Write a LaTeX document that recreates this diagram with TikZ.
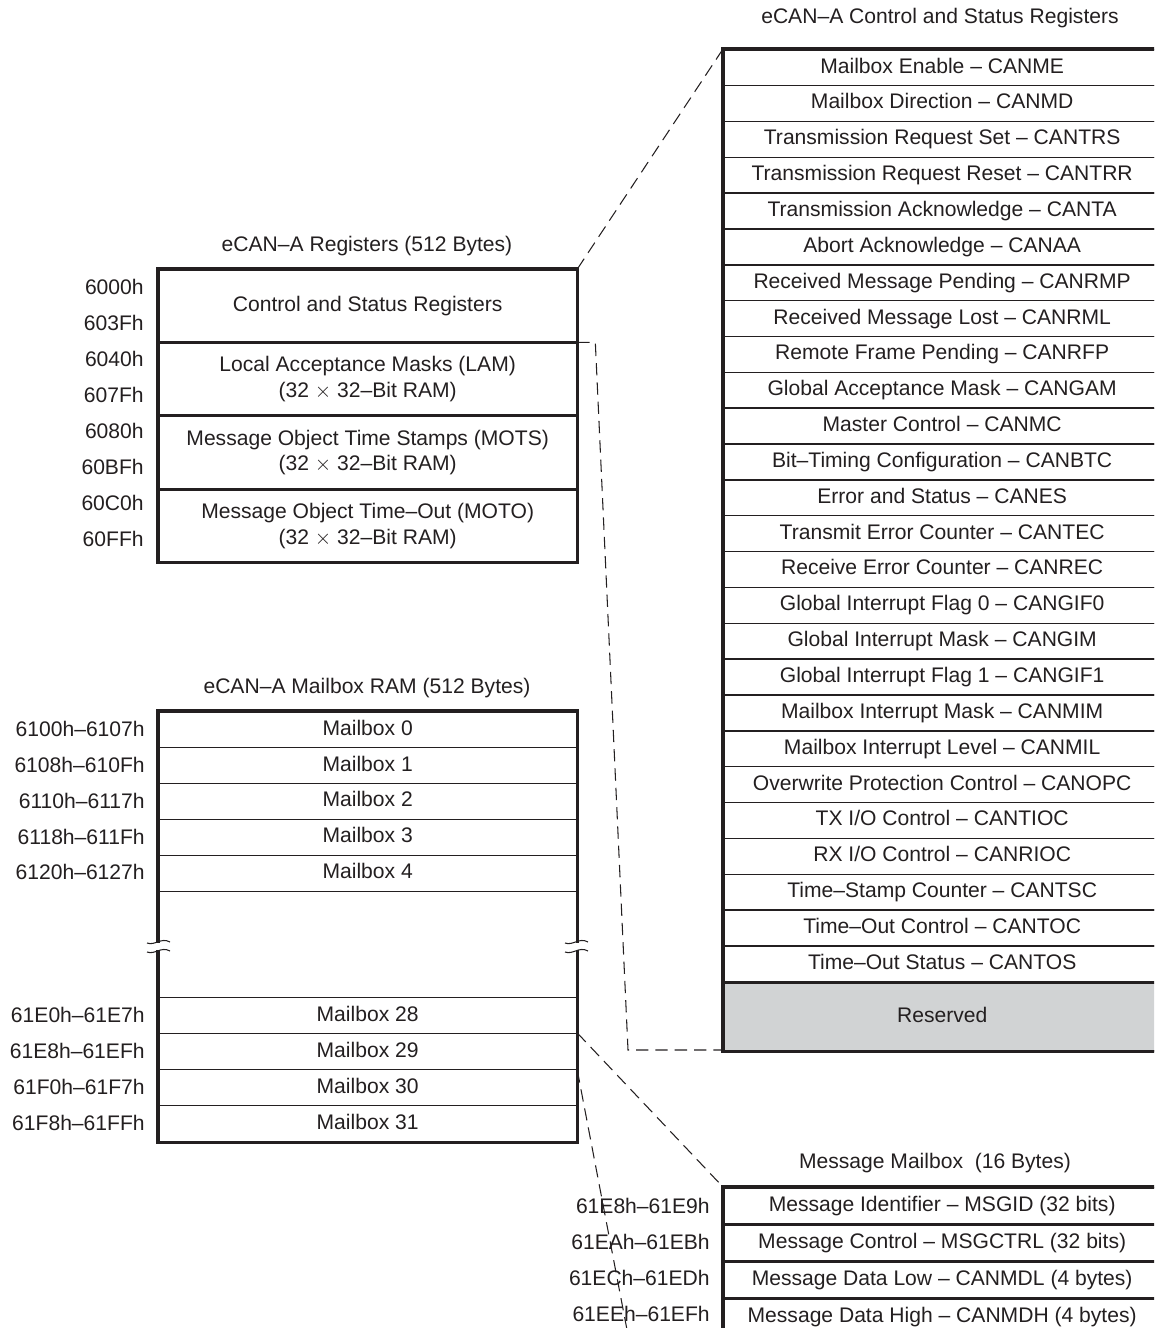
\documentclass[tikz,border=0pt]{standalone}
\usepackage{fontspec}
\setmainfont{Liberation Sans}
\usetikzlibrary{positioning}
\definecolor{ink}{HTML}{231F20}
\definecolor{resgray}{HTML}{D1D3D4}
\begin{document}
\begin{tikzpicture}[x=0.02cm,y=-0.02cm,font=\fontsize{12}{14.5}\selectfont,text=ink]

    \tikzset{rowstyle/.style={draw=ink,line width=0.8pt,shape=rectangle,inner sep=0pt,anchor=north west,align=center},
             leftrow/.style={rowstyle,minimum width=8.36cm,minimum height=0.72cm},
             rightrow/.style={rowstyle,minimum width=8.74cm,minimum height=0.717cm,text height=8.6pt,text depth=2.4pt},
             addrstyle/.style={anchor=east,inner sep=0pt},
             framestyle/.style={draw=ink,line width=1.8pt},
             linkstyle/.style={draw=ink,line width=0.6pt,dash pattern=on 7pt off 4pt}}
    \useasboundingbox (0,0) rectangle (1154,1328);
    \clip (0,0) rectangle (1154,1328);

    % eCAN-A registers
    \node (regtitle) at (367,246) {eCAN–A Registers (512 Bytes)};
    \node[leftrow,minimum height=1.44cm] (csr) at (158,269) {Control and Status Registers};
    \node[leftrow,minimum height=1.44cm,below=0pt of csr] (lam) {Local Acceptance Masks (LAM)\\(32 $\times$ 32–Bit RAM)};
    \node[leftrow,minimum height=1.44cm,below=0pt of lam] (mots) {Message Object Time Stamps (MOTS)\\(32 $\times$ 32–Bit RAM)};
    \node[leftrow,minimum height=1.44cm,below=0pt of mots] (moto) {Message Object Time–Out (MOTO)\\(32 $\times$ 32–Bit RAM)};
    \draw[framestyle] (csr.north west) rectangle (moto.south east);

    \node[addrstyle] (a1) at (144,287) {6000h};
    \node[addrstyle] (a2) at (144,323) {603Fh};
    \node[addrstyle] (a3) at (144,359) {6040h};
    \node[addrstyle] (a4) at (144,395) {607Fh};
    \node[addrstyle] (a5) at (144,431) {6080h};
    \node[addrstyle] (a6) at (144,467) {60BFh};
    \node[addrstyle] (a7) at (144,503) {60C0h};
    \node[addrstyle] (a8) at (144,539) {60FFh};

    % control and status registers
    \node (csrtitle) at (940,18) {eCAN–A Control and Status Registers};
    \foreach \txt [count=\i] in {Mailbox Enable – CANME,Mailbox Direction – CANMD,
        Transmission Request Set – CANTRS,Transmission Request Reset – CANTRR,
        Transmission Acknowledge – CANTA,Abort Acknowledge – CANAA,
        Received Message Pending – CANRMP,Received Message Lost – CANRML,
        Remote Frame Pending – CANRFP,Global Acceptance Mask – CANGAM,
        Master Control – CANMC,Bit–Timing Configuration – CANBTC,
        Error and Status – CANES,Transmit Error Counter – CANTEC,
        Receive Error Counter – CANREC,Global Interrupt Flag 0 – CANGIF0,
        Global Interrupt Mask – CANGIM,Global Interrupt Flag 1 – CANGIF1,
        Mailbox Interrupt Mask – CANMIM,Mailbox Interrupt Level – CANMIL,
        Overwrite Protection Control – CANOPC,TX I/O Control – CANTIOC,
        RX I/O Control – CANRIOC,Time–Stamp Counter – CANTSC,
        Time–Out Control – CANTOC,Time–Out Status – CANTOS}
        \node[rightrow] (r\i) at (723,{49+35.85*(\i-1)}) {\txt};
    \node[rightrow,fill=resgray,minimum height=1.36cm,below=0pt of r26] (rsv) {Reserved};
    \draw[framestyle] (r1.north west) rectangle (rsv.south east);

    % mailbox RAM
    \node (mbtitle) at (367,688) {eCAN–A Mailbox RAM (512 Bytes)};
    \foreach \n [count=\i from 0] in {0,1,2,3,4}
        \node[leftrow,text height=8.6pt,text depth=2.4pt] (mb\n) at (158,{711+35.9*\i}) {Mailbox \n};
    \foreach \n [count=\i from 0] in {28,29,30,31}
        \node[leftrow,text height=8.6pt,text depth=2.4pt] (mb\n) at (158,{997+36*\i}) {Mailbox \n};
    \draw[framestyle] (mb0.north west) rectangle (mb31.south east);

    \node[addrstyle] (b0) at (145,729) {6100h–6107h};
    \node[addrstyle] (b1) at (145,765) {6108h–610Fh};
    \node[addrstyle] (b2) at (145,801) {6110h–6117h};
    \node[addrstyle] (b3) at (145,837) {6118h–611Fh};
    \node[addrstyle] (b4) at (145,872) {6120h–6127h};
    \node[addrstyle] (b28) at (145,1015) {61E0h–61E7h};
    \node[addrstyle] (b29) at (145,1051) {61E8h–61EFh};
    \node[addrstyle] (b30) at (145,1087) {61F0h–61F7h};
    \node[addrstyle] (b31) at (145,1123) {61F8h–61FFh};

    % break marks
    \foreach \bx in {158,576} {
        \fill[white] (\bx-6,943) rectangle (\bx+6,950);
        \draw[ink,line width=0.6pt] (\bx-11,943) .. controls (\bx-3,946) and (\bx+3,937) .. (\bx+12,942);
        \draw[ink,line width=0.6pt] (\bx-11,952) .. controls (\bx-3,955) and (\bx+3,946) .. (\bx+12,951);
    }

    % message mailbox
    \node (mmtitle) at (935,1163) {Message Mailbox\ \ (16 Bytes)};
    \node[rightrow] (m1) at (723,1187) {Message Identifier – MSGID (32 bits)};
    \node[rightrow,below=0pt of m1] (m2) {Message Control – MSGCTRL (32 bits)};
    \node[rightrow,below=0pt of m2] (m3) {Message Data Low – CANMDL (4 bytes)};
    \node[rightrow,below=0pt of m3] (m4) {Message Data High – CANMDH (4 bytes)};
    \draw[framestyle] (m1.north west) rectangle (m4.south east);

    \node[addrstyle] (c1) at (710,1206) {61E8h–61E9h};
    \node[addrstyle] (c2) at (710,1242) {61EAh–61EBh};
    \node[addrstyle] (c3) at (710,1278) {61ECh–61EDh};
    \node[addrstyle] (c4) at (710,1314) {61EEh–61EFh};

    % dashed links
    \coordinate (bend) at (628,1050);
    \coordinate (tailend) at (628,1335);
    \begin{scope}[every path/.style={linkstyle}]
        \draw (csr.north east) -- (r1.north west);
        \draw (csr.south east) -- ++(18,0) -- (bend) -- (bend -| rsv.west);
        \draw (mb29.north east) -- (m1.north west);
        \draw (mb29.south east) -- (tailend);
    \end{scope}
\end{tikzpicture}
\end{document}
